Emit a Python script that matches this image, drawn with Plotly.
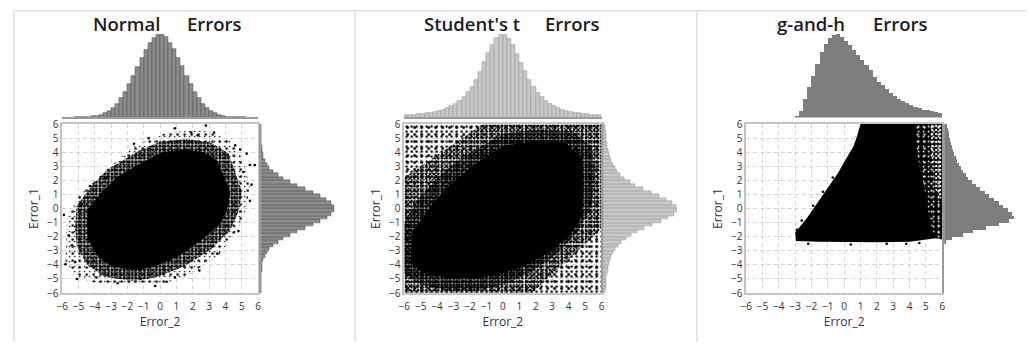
import plotly.graph_objects as go

# ---------------------------------------------------------------------------
# Marginal histograms: 48 bins of width 0.25 spanning -6..6, tallest bin = 100
# ---------------------------------------------------------------------------
BIN_WIDTH = 0.25
BIN_CENTERS = [round(-5.875 + BIN_WIDTH * i, 3) for i in range(48)]
TICKS = list(range(-6, 7))

normal_error2_hist = [
    0, 0, 0, 0.1,
    0.2, 0.4, 0.8, 1.3, 2.1, 3.4, 5.3, 8.0, 11.6, 16.4, 22.8, 30.5, 39.6, 49.8,
    60.7, 71.5, 81.2, 89.6, 95.8, 99.5,
    100, 96.4, 89.1, 81.7, 71.0, 61.2, 49.3, 40.1, 30.2, 23.1, 16.2, 11.4, 7.9,
    5.2, 3.3, 2.0, 1.2, 0.7, 0.4, 0.2,
    0.1, 0, 0, 0,
]
normal_error1_hist = [
    0, 0, 0, 0.1,
    0.2, 0.4, 0.7, 1.2, 2.0, 3.3, 5.1, 7.8, 11.3, 16.0, 22.5, 30.0, 39.0, 49.5,
    60.0, 71.0, 81.0, 89.5, 96.0, 100,
    99.2, 95.5, 89.0, 80.5, 70.5, 60.5, 49.5, 39.5, 30.5, 22.8, 16.3, 11.5, 8.0,
    5.3, 3.4, 2.1, 1.3, 0.8, 0.5, 0.3,
    0.1, 0, 0, 0,
]
student_error2_hist = [
    2.9, 3.2, 3.6, 4.0, 4.5, 5.1, 5.9, 6.8, 8.0, 9.4, 11.2, 13.5, 16.5, 20.0,
    24.5, 30.0, 37.0, 45.0, 55.0, 66.0, 77.0, 87.0, 95.0, 100,
    99.0, 94.0, 86.5, 76.0, 65.5, 55.5, 44.5, 36.5, 29.5, 24.0, 20.0, 16.2,
    13.3, 11.0, 9.3, 7.9, 6.7, 5.8, 5.0, 4.4, 3.9, 3.5, 3.1, 2.8,
]
student_error1_hist = [
    3.1, 3.4, 3.8, 4.2, 4.7, 5.3, 6.1, 7.0, 8.2, 9.6, 11.5, 13.8, 16.8, 20.5,
    25.0, 30.5, 37.5, 46.0, 56.0, 67.0, 78.0, 88.0, 96.0, 100,
    98.5, 93.0, 85.5, 75.5, 65.0, 54.5, 44.0, 36.0, 29.0, 23.5, 19.5, 16.0,
    13.0, 10.8, 9.1, 7.7, 6.6, 5.7, 4.9, 4.3, 3.8, 3.4, 3.0, 2.7,
]
gh_error2_hist = [
    0, 0, 0, 0, 0, 0, 0, 0, 0, 0, 0, 0,
    1, 8, 22, 36, 50, 64, 78, 88, 95, 99, 100, 96,
    92, 87, 81, 75, 69, 63, 57, 49, 43, 38.5, 34, 29.5, 26, 22.5, 19.5, 17,
    14.5, 12.5, 11, 9.5, 8.5, 7.3, 6.3, 5.4,
]
gh_error1_hist = [
    0, 0, 0, 0, 0, 0, 0, 0, 0, 0, 0, 0, 0, 0,
    2, 12, 27, 42, 60, 78, 93, 100, 97, 91,
    85, 78, 71, 64, 58, 52, 46, 40, 35, 31, 27, 24, 21, 18.5, 16.5, 14.5,
    12.8, 11.3, 10, 8.8, 7.7, 6.7, 5.8, 5.0,
]

# ---------------------------------------------------------------------------
# Scatter clouds: outlines (Error_2, Error_1) of the solid core and of the
# dotted fringe bands around it, plus isolated outlying points
# ---------------------------------------------------------------------------
normal_core_x = [-4.5, -4.4, -3.6, -2.6, -0.9, 0.1, 1.5, 2.7, 3.5, 3.9, 4.3, 4.1,
                 3.7, 2.5, 1.1, -0.3, -1.5, -3.0, -3.8, -4.4]
normal_core_y = [-1.1, 0.0, 1.14, 2.27, 3.4, 4.0, 4.2, 4.0, 3.4, 2.3, 1.14, 0.0,
                 -1.1, -2.26, -3.4, -4.1, -4.4, -4.1, -3.4, -2.26]
normal_mid_x = [-5.2, -5.1, -4.2, -3.2, -1.3, 0.0, 1.6, 3.1, 4.2, 4.6, 5.0, 4.8,
                4.3, 3.1, 1.5, -0.3, -1.7, -3.4, -4.5, -5.1]
normal_mid_y = [-1.3, 0.2, 1.6, 2.8, 4.1, 4.75, 4.95, 4.7, 3.9, 2.6, 1.2, -0.2,
                -1.5, -2.9, -4.1, -4.9, -5.15, -4.85, -3.95, -2.7]
normal_outer_x = [-5.8, -5.7, -4.9, -3.5, -1.7, 0.4, 2.5, 4.3, 5.1, 5.5, 5.2, 4.7,
                  3.6, 1.8, 0.0, -2.0, -3.6, -5.1]
normal_outer_y = [-3.8, -0.6, 1.1, 2.5, 4.4, 5.4, 5.6, 4.9, 3.4, 1.5, -0.3, -1.6,
                  -3.3, -4.7, -5.4, -5.5, -5.4, -4.9]
normal_stray_x = [5.5, 5.8, 5.6, 5.5, -5.9, -5.6, -5.2, -5.8, -5.1, 2.8, -0.7,
                  0.9, -3.3, -0.3, 0.9, 3.5, 4.6, 5.1, 5.3, 4.9, 3.3, 1.9, 2.3,
                  -1.6, -4.3, -4.8, -5.4, -2.6, -1.2, 0.4, 2.4, 4.8, -3.9]
normal_stray_y = [3.1, 3.1, 1.7, 0.55, -0.45, -1.9, -3.8, -3.95, -5.0, 5.9, 5.0,
                  5.7, 2.15, -5.5, -4.9, -3.2, 4.5, 2.6, 3.9, 4.2, 5.4, 5.4, 5.2,
                  4.6, 1.6, 0.3, -2.6, -5.3, -5.0, -5.2, -4.4, -1.6, -4.9]

student_core_x = [-5.5, -4.3, -3.2, -2.1, -0.9, 0.2, 2.0, 3.8, 4.8, 4.9, 4.9,
                  4.7, 4.0, 2.8, 1.3, -0.3, -2.0, -3.5, -4.8, -5.6]
student_core_y = [-1.7, 0.3, 1.7, 2.8, 3.8, 4.5, 4.8, 4.7, 3.6, 2.4, 0.8, -0.8,
                  -2.0, -3.1, -4.1, -4.7, -5.0, -4.9, -4.6, -3.9]
student_dense_x = [-6.0, -5.0, -3.8, -2.6, -1.2, 0.0, 2.0, 4.2, 5.4, 5.6, 5.4,
                   4.6, 3.5, 2.0, 0.3, -1.6, -3.4, -5.0, -6.0]
student_dense_y = [-1.0, 0.9, 2.4, 3.5, 4.5, 5.3, 5.6, 5.5, 4.4, 2.5, 0.2,
                   -1.5, -3.0, -4.3, -5.3, -5.8, -5.8, -5.4, -4.6]
student_mid_x = [-6.0, 1.8, 6.0, 6.0, -1.2, -6.0]
student_mid_y = [-6.0, -6.0, -1.4, 6.0, 6.0, 2.2]
student_outer_x = [-6.0, 6.0, 6.0, -6.0]
student_outer_y = [-6.0, -6.0, 6.0, 6.0]

gh_core_x = [-2.95, -3.0, -2.3, -1.6, -1.0, -0.4, 0.1, 0.6, 0.8, 1.0, 6.0,
             6.0, 5.6, 4.0, 2.0, 0.0, -1.5]
gh_core_y = [-2.3, -1.7, -0.7, 0.45, 1.5, 2.5, 3.5, 4.5, 5.2, 6.0, 6.0,
             -2.2, -2.1, -2.35, -2.4, -2.4, -2.35]
gh_speckle_x = [4.3, 6.0, 6.0, 5.6, 5.4, 5.1, 4.9, 4.6, 4.4]
gh_speckle_y = [6.0, 6.0, -2.2, -2.1, -1.5, 0.0, 1.5, 3.0, 4.5]
gh_open_x = [5.2, 6.0, 6.0, 5.5]
gh_open_y = [6.0, 6.0, 0.5, 1.5]
gh_stray_x = [-2.9, -2.6, -1.9, -1.3, -0.7, 0.2, 0.7, 1.2, 2.6, 3.8, 4.6, -2.2, 0.4]
gh_stray_y = [-1.5, -0.85, 0.2, 1.2, 2.2, 3.4, 4.6, 5.8, -2.5, -2.5, -2.45, -2.5, -2.55]

panels = [
    dict(title="Normal", title_px=122, errors_px=210,
         x_hist=normal_error2_hist, y_hist=normal_error1_hist,
         scatter_px=(56.7, 254.3), side_px=(257.5, 331.5),
         fill="#8c8c8c", edge="#4a4a4a", edge_w=0.5, baseline=True),
    dict(title="Student's t", title_px=470, errors_px=572,
         x_hist=student_error2_hist, y_hist=student_error1_hist,
         scatter_px=(401.7, 600.8), side_px=(602.5, 677.0),
         fill="#c8c8c8", edge="#939393", edge_w=0.5, baseline=True),
    dict(title="g-and-h", title_px=812, errors_px=902,
         x_hist=gh_error2_hist, y_hist=gh_error1_hist,
         scatter_px=(746.7, 944.5), side_px=(946.5, 1017.0),
         fill="#7d7d7d", edge="#7d7d7d", edge_w=0, baseline=False),
]

W, H = 1029, 349


def fx(px):
    return px / W


def fy(px):
    return 1 - px / H


SCATTER_Y = [fy(298), fy(122)]
TOP_Y = [fy(115), fy(28)]

tick_font = dict(family="Open Sans", size=10, color="#333333")
title_font = dict(family="Open Sans", size=12, color="#333333")
GRID = dict(showgrid=True, gridcolor="#d4d4d4", griddash="4px,3px", gridwidth=1)

fig = go.Figure()
layout_axes = {}


def ax_name(kind, n):
    return kind if n == 1 else f"{kind}{n}"


def polygon(xs, ys, xa, ya, **kw):
    return go.Scatter(x=xs + xs[:1], y=ys + ys[:1], mode="lines", fill="toself",
                      line=dict(width=0), hoverinfo="skip",
                      xaxis=xa, yaxis=ya, **kw)


def dots(size, solidity, fg="black"):
    return dict(shape=".", fgcolor=fg, bgcolor="rgba(0,0,0,0)", size=size,
                solidity=solidity, fillmode="replace")


def add_speckle(xs, ys, xa, ya, layers, fg="black"):
    # overlapping dot lattices of different pitch give an irregular grain
    for size, solidity in layers:
        fig.add_trace(polygon(xs, ys, xa, ya, fillpattern=dots(size, solidity, fg)))


for p, cfg in enumerate(panels):
    s, t, r = 3 * p + 1, 3 * p + 2, 3 * p + 3
    xs, ys = ax_name("x", s), ax_name("y", s)
    xt, yt = ax_name("x", t), ax_name("y", t)
    xr, yr = ax_name("x", r), ax_name("y", r)
    sx = [fx(cfg["scatter_px"][0]), fx(cfg["scatter_px"][1])]
    rx = [fx(cfg["side_px"][0]), fx(cfg["side_px"][1])]

    # --- scatter cloud
    if p == 0:
        add_speckle(normal_outer_x, normal_outer_y, xs, ys, [(7, 0.1), (5, 0.08)])
        add_speckle(normal_mid_x, normal_mid_y, xs, ys, [(3, 0.45), (4, 0.4)])
        fig.add_trace(polygon(normal_core_x, normal_core_y, xs, ys, fillcolor="black"))
        fig.add_trace(go.Scatter(x=normal_stray_x, y=normal_stray_y, mode="markers",
                                 marker=dict(size=2.6, color="black"),
                                 xaxis=xs, yaxis=ys, hoverinfo="skip"))
    elif p == 1:
        add_speckle(student_outer_x, student_outer_y, xs, ys, [(5, 0.18), (7, 0.14)])
        add_speckle(student_mid_x, student_mid_y, xs, ys, [(3, 0.3), (4, 0.28)])
        add_speckle(student_dense_x, student_dense_y, xs, ys, [(3, 0.5), (4, 0.45)])
        fig.add_trace(polygon(student_core_x, student_core_y, xs, ys, fillcolor="black"))
    else:
        fig.add_trace(polygon(gh_core_x, gh_core_y, xs, ys, fillcolor="black"))
        add_speckle(gh_speckle_x, gh_speckle_y, xs, ys, [(5, 0.1), (7, 0.08)], fg="white")
        add_speckle(gh_open_x, gh_open_y, xs, ys, [(4, 0.25)], fg="white")
        fig.add_trace(go.Scatter(x=gh_stray_x, y=gh_stray_y, mode="markers",
                                 marker=dict(size=2.6, color="black"),
                                 xaxis=xs, yaxis=ys, hoverinfo="skip"))

    # --- marginal histograms
    bar_marker = dict(color=cfg["fill"], line=dict(color=cfg["edge"], width=cfg["edge_w"]))
    fig.add_trace(go.Bar(x=BIN_CENTERS, y=cfg["x_hist"], width=BIN_WIDTH,
                         marker=bar_marker, xaxis=xt, yaxis=yt, hoverinfo="skip"))
    fig.add_trace(go.Bar(y=BIN_CENTERS, x=cfg["y_hist"], width=BIN_WIDTH, orientation="h",
                         marker=bar_marker, xaxis=xr, yaxis=yr, hoverinfo="skip"))

    # --- axes
    layout_axes["xaxis" if s == 1 else f"xaxis{s}"] = dict(
        domain=sx, range=[-6, 6], anchor=ys, tickvals=TICKS, ticks="",
        zeroline=False, showline=True, mirror=True, linecolor="#c4c4c4", linewidth=1.5,
        tickfont=tick_font, ticklabelstandoff=3,
        title=dict(text="Error_2", font=title_font, standoff=2),
        fixedrange=True, **GRID)
    layout_axes[f"yaxis{s}" if s != 1 else "yaxis"] = dict(
        domain=SCATTER_Y, range=[-6, 6], anchor=xs, tickvals=TICKS, ticks="",
        zeroline=False, showline=True, mirror=True, linecolor="#c4c4c4", linewidth=1.5,
        tickfont=tick_font, title=dict(text="Error_1", font=title_font, standoff=6),
        fixedrange=True, **GRID)
    layout_axes[f"xaxis{t}"] = dict(
        domain=sx, range=[-6, 6], anchor=yt, showticklabels=False, ticks="",
        showgrid=False, zeroline=False, showline=cfg["baseline"],
        linecolor="#9a9a9a", linewidth=2)
    layout_axes[f"yaxis{t}"] = dict(domain=TOP_Y, range=[0, 100], anchor=xt, visible=False)
    layout_axes[f"xaxis{r}"] = dict(domain=rx, range=[0, 100], anchor=yr, visible=False)
    layout_axes[f"yaxis{r}"] = dict(
        domain=SCATTER_Y, range=[-6, 6], anchor=xr, showticklabels=False, ticks="",
        showgrid=False, zeroline=False, showline=True, linecolor="#9a9a9a", linewidth=2)

annotations = []
for cfg in panels:
    for label, px in ((cfg["title"], cfg["title_px"]), ("Errors", cfg["errors_px"])):
        annotations.append(dict(
            text=label, x=fx(px), y=fy(17), xref="paper", yref="paper",
            xanchor="center", yanchor="middle", showarrow=False,
            font=dict(family="Open Sans", size=18.5, color="#1c1c1c", weight=600)))

frame = dict(type="line", xref="paper", yref="paper", line=dict(color="#cfcfcf", width=1))
shapes = [dict(frame, x0=fx(8), x1=1, y0=fy(4), y1=fy(4))]
for px in (8, 352, 697):
    shapes.append(dict(frame, x0=fx(px), x1=fx(px), y0=fy(4), y1=0))

fig.update_layout(
    width=W, height=H, margin=dict(l=0, r=0, t=0, b=0),
    paper_bgcolor="white", plot_bgcolor="white", showlegend=False,
    bargap=0, annotations=annotations, shapes=shapes, **layout_axes)

fig.write_html("out.html")
